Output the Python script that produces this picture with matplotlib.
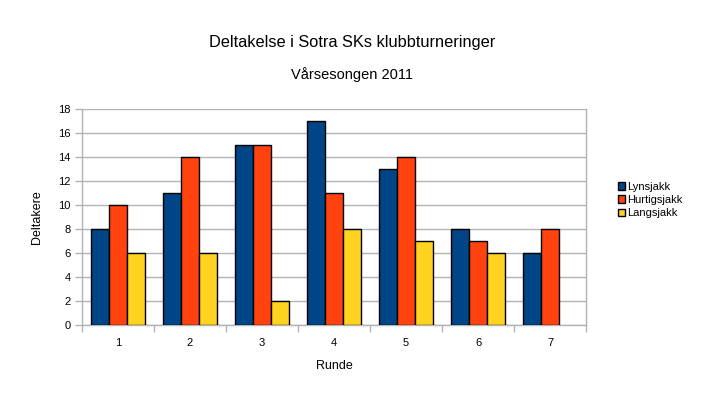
import matplotlib
matplotlib.use("Agg")
import matplotlib.pyplot as plt
import numpy as np

plt.rcParams['font.family'] = ['Liberation Sans', 'DejaVu Sans']

rounds = ['1', '2', '3', '4', '5', '6', '7']
series_names = ['Lynsjakk', 'Hurtigsjakk', 'Langsjakk']
lynsjakk = [8, 11, 15, 17, 13, 8, 6]
hurtigsjakk = [10, 14, 15, 11, 14, 7, 8]
langsjakk = [6, 6, 2, 8, 7, 6, None]
colors = ['#004586', '#ff420e', '#ffd320']

fig = plt.figure(figsize=(7.04, 3.97), dpi=100)
ax = fig.add_axes([82/704, 1-325/397, (586-82)/704, (325-109)/397])

x = np.arange(len(rounds))
w = 0.25
for i, (vals, name, c) in enumerate(zip([lynsjakk, hurtigsjakk, langsjakk], series_names, colors)):
    v = np.array([np.nan if a is None else a for a in vals], dtype=float)
    ax.bar(x + (i-1)*w, v, width=w, color=c, edgecolor='black', linewidth=1.0, label=name, zorder=3)

ax.set_xlim(-0.5, len(rounds)-0.5)
ax.set_ylim(0, 18)
ax.set_yticks(range(0, 19, 2))
ax.set_xticks(x)
ax.set_xticklabels(rounds)
ax.set_xticks(np.arange(-0.5, len(rounds), 1), minor=True)
ax.tick_params(axis='x', which='major', length=0, pad=9, labelsize=8)
ax.tick_params(axis='x', which='minor', length=5, color='#b3b3b3', width=1)
ax.tick_params(axis='y', length=5, color='#b3b3b3', width=1, labelsize=8, pad=3)
ax.yaxis.grid(True, color='#b3b3b3', linewidth=1, zorder=0)
for s in ax.spines.values():
    s.set_color('#b3b3b3')
    s.set_linewidth(1)
ax.spines['top'].set_visible(False)

ax.set_xlabel('Runde', fontsize=9, labelpad=9)
ax.set_ylabel('Deltakere', fontsize=9, labelpad=11)

fig.text(0.5, 1-42/397, 'Deltakelse i Sotra SKs klubbturneringer', ha='center', va='center', fontsize=11.8)
fig.text(0.5, 1-75/397, 'Vårsesongen 2011', ha='center', va='center', fontsize=10.5)

leg = fig.legend(loc='center left', bbox_to_anchor=(612/704, 1-200/397), frameon=False,
                 fontsize=8, handlelength=0.7, handleheight=0.7, handletextpad=0.2,
                 labelspacing=0.3, borderpad=0)

fig.savefig('out.png', dpi=100)
